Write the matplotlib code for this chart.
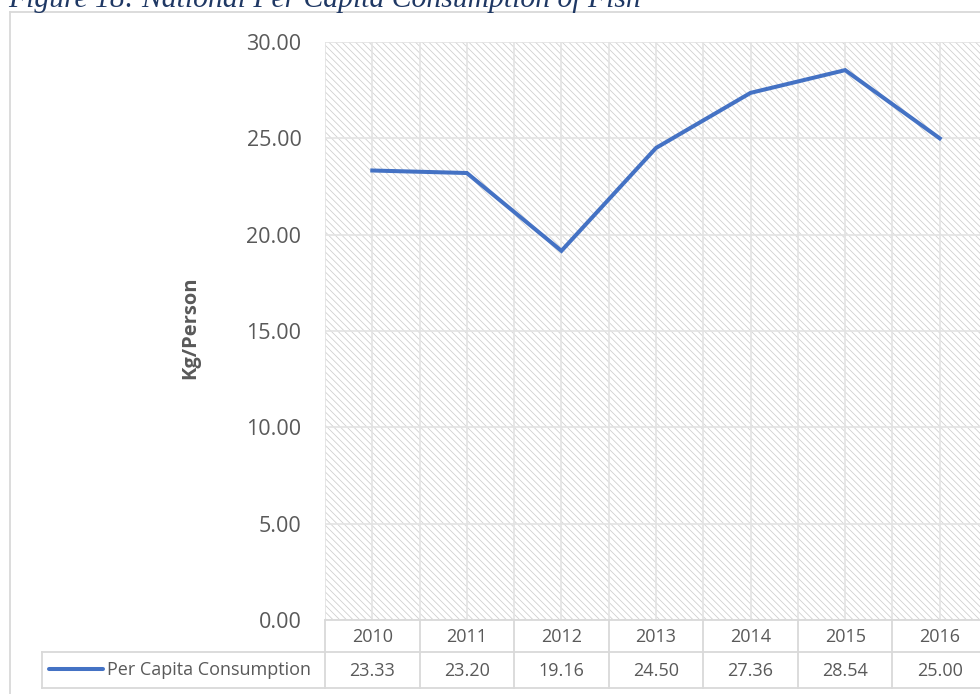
import matplotlib
matplotlib.use("Agg")
import matplotlib.pyplot as plt
import matplotlib.transforms as mtransforms
from matplotlib.patches import Rectangle
from matplotlib.lines import Line2D

years = ["2010", "2011", "2012", "2013", "2014", "2015", "2016"]
consumption = [23.33, 23.20, 19.16, 24.50, 27.36, 28.54, 25.00]
series_name = "Per Capita Consumption"
y_ticks = [0, 5, 10, 15, 20, 25, 30]
y_label = "Kg/Person"
title = "Figure 18: National Per Capita Consumption of Fish"

W, H = 980, 694
fig = plt.figure(figsize=(W / 100, H / 100), dpi=100)
fig.patch.set_facecolor("white")

def fx(px):
    return px / W

def fy(py):
    return 1 - py / H

LINE_C = "#4472C4"
GRID_C = "#d9d9d9"
TXT_C = "#595959"
FONT = "Open Sans"

# plot area
left_px, right_px, top_px, bot_px = 325, 987, 42, 620
ax = fig.add_axes([fx(left_px), fy(bot_px), fx(right_px - left_px), (bot_px - top_px) / H])
ax.set_xlim(-0.5, len(years) - 0.5)
ax.set_ylim(0, 30)
plt.rcParams["hatch.linewidth"] = 0.55
bg = Rectangle((0, 0), 1, 1, transform=ax.transAxes, facecolor="white",
               edgecolor="#cdcdcd", hatch="\\" * 5, linewidth=0, zorder=0)
ax.add_patch(bg)
ax.set_facecolor("white")
for s in ax.spines.values():
    s.set_visible(False)
ax.set_xticks(range(len(years)))
ax.set_xticks([i - 0.5 for i in range(len(years) + 1)], minor=True)
ax.set_yticks(y_ticks)
ax.grid(True, which="both", axis="x", color="#e3e3e3", linewidth=1.2, zorder=1)
ax.grid(True, which="major", axis="y", color="#e3e3e3", linewidth=1.2, zorder=1)
ax.tick_params(axis="x", which="both", length=0, labelbottom=False)
ax.tick_params(axis="y", length=0, pad=17, labelsize=15.5, labelcolor=TXT_C)
ax.set_yticklabels([f"{v:.2f}" for v in y_ticks], fontfamily=FONT)
ax.set_axisbelow(True)
ax.plot(range(len(years)), consumption, color=LINE_C, linewidth=2.9,
        solid_joinstyle="miter", zorder=3)

fig.text(fx(190), fy(328), y_label, rotation=90, ha="center", va="center",
         fontsize=14.5, fontweight="bold", color=TXT_C, fontfamily=FONT)

# data table
cat_tr = mtransforms.blended_transform_factory(ax.transData, fig.transFigure)
r1_top, r1_bot, r2_bot = 620, 652, 688
tbl_left = 42
lkw = dict(color=GRID_C, linewidth=1.3, transform=fig.transFigure)
fig.add_artist(Line2D([fx(left_px), fx(right_px)], [fy(r1_top)] * 2, **lkw))
fig.add_artist(Line2D([fx(tbl_left), fx(right_px)], [fy(r1_bot)] * 2, **lkw))
fig.add_artist(Line2D([fx(tbl_left), fx(right_px)], [fy(r2_bot)] * 2, **lkw))
fig.add_artist(Line2D([fx(tbl_left)] * 2, [fy(r1_bot), fy(r2_bot)], **lkw))
for i in range(len(years) + 1):
    fig.add_artist(Line2D([i - 0.5, i - 0.5], [fy(r1_top), fy(r2_bot)],
                          color=GRID_C, linewidth=1.3, transform=cat_tr))
for i, (yr, v) in enumerate(zip(years, consumption)):
    fig.text(i, fy((r1_top + r1_bot) / 2 + 1), yr, transform=cat_tr, ha="center",
             va="center", fontsize=13, color=TXT_C, fontfamily=FONT)
    fig.text(i, fy((r1_bot + r2_bot) / 2 + 1), f"{v:.2f}", transform=cat_tr,
             ha="center", va="center", fontsize=13, color=TXT_C, fontfamily=FONT)
fig.add_artist(Line2D([fx(49), fx(103)], [fy(669)] * 2, color=LINE_C,
                      linewidth=2.9, solid_capstyle="round", transform=fig.transFigure))
fig.text(fx(107), fy(670), series_name, ha="left", va="center", fontsize=13,
         color=TXT_C, fontfamily=FONT)

# chart border
fig.add_artist(Line2D([fx(10), fx(10)], [fy(12), 0], color=GRID_C, linewidth=1.3,
                      transform=fig.transFigure))
fig.add_artist(Line2D([fx(10), 1], [fy(12), fy(12)], color=GRID_C, linewidth=1.3,
                      transform=fig.transFigure))

# title (cropped at the top, as in the reference)
fig.text(fx(8), fy(7), title, ha="left", va="baseline", fontsize=21.3, style="italic",
         color="#1F3864", fontfamily="Liberation Serif")

fig.savefig("out.png", dpi=100, facecolor="white")
